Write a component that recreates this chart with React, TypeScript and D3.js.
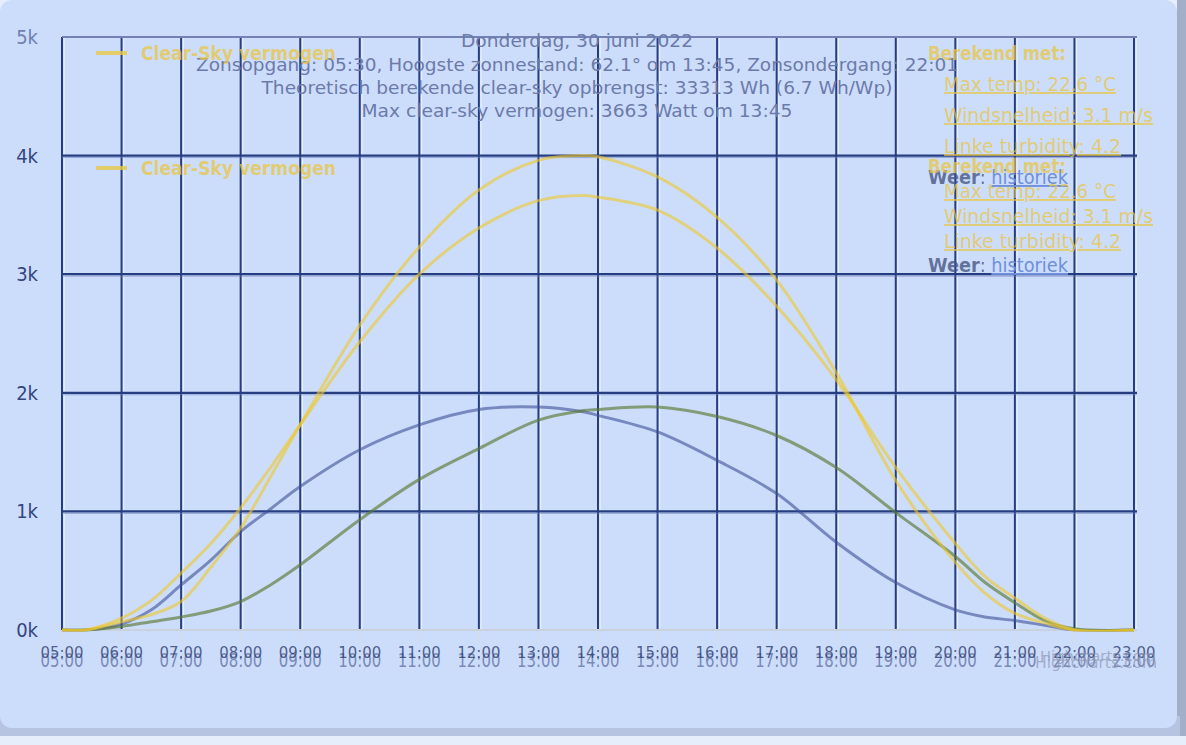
import React, { useEffect } from 'react';
import * as d3 from 'd3';

// ---- data (kW) ----
const hours = [5, 5.4, 6, 6.5, 7, 7.5, 8, 8.5, 9, 10, 11, 12, 13, 13.75, 14, 15, 16, 17, 18, 19, 20, 20.5, 21, 21.5, 22, 23];
const clearSkyHigh = [0, 0, 0.07, 0.13, 0.24, 0.53, 0.86, 1.29, 1.73, 2.57, 3.23, 3.71, 3.96, 4.0, 3.99, 3.82, 3.48, 2.95, 2.17, 1.26, 0.57, 0.31, 0.14, 0.06, 0, 0];
const clearSky = [0, 0, 0.10, 0.25, 0.48, 0.73, 1.03, 1.37, 1.73, 2.43, 3.0, 3.39, 3.62, 3.663, 3.65, 3.54, 3.22, 2.73, 2.11, 1.37, 0.73, 0.45, 0.27, 0.10, 0, 0];
const eastPower = [0, 0, 0.05, 0.17, 0.38, 0.59, 0.83, 1.02, 1.21, 1.52, 1.73, 1.86, 1.88, 1.84, 1.81, 1.67, 1.43, 1.15, 0.74, 0.40, 0.17, 0.11, 0.08, 0.04, 0, 0];
const westPower = [0, 0, 0.03, 0.07, 0.11, 0.16, 0.24, 0.38, 0.55, 0.93, 1.27, 1.53, 1.77, 1.85, 1.86, 1.88, 1.80, 1.64, 1.37, 0.99, 0.62, 0.40, 0.23, 0.08, 0.01, 0];

const xTickHours = [5, 6, 7, 8, 9, 10, 11, 12, 13, 14, 15, 16, 17, 18, 19, 20, 21, 22, 23];
const yTicks = [0, 1, 2, 3, 4, 5];

const titleText = 'Donderdag, 30 juni 2022';
const subtitleLines = [
  'Zonsopgang: 05:30, Hoogste zonnestand: 62.1° om 13:45, Zonsondergang: 22:01',
  'Theoretisch berekende clear-sky opbrengst: 33313 Wh (6.7 Wh/Wp)',
  'Max clear-sky vermogen: 3663 Watt om 13:45',
];
const subtitleWidths = [762, 631, 431];
const legendName = 'Clear-Sky vermogen';
const infoTitle = 'Berekend met:';
const infoItems = ['Max temp: 22.6 °C', 'Windsnelheid: 3.1 m/s', 'Linke turbidity: 4.2'];
const infoWidths = [172, 209, 177];

const W = 1186;
const H = 745;
const FONT = '"DejaVu Sans Condensed", "DejaVu Sans", sans-serif';

const fmtHour = (h: number) => `${String(h).padStart(2, '0')}:00`;

export default function App() {
  useEffect(() => {
    document.body.style.margin = '0';
  }, []);

  const x = d3.scaleLinear().domain([5, 23]).range([62, 1134]);
  const y = d3.scaleLinear().domain([0, 5]).range([630, 37]);

  const line = d3
    .line<number>()
    .x((_, i) => x(hours[i]))
    .y((d) => y(d))
    .curve(d3.curveCatmullRom.alpha(0.5));

  const series = [
    { data: eastPower, color: 'rgba(60,80,150,0.6)' },
    { data: westPower, color: 'rgba(90,120,50,0.65)' },
    { data: clearSky, color: 'rgba(238,200,40,0.6)' },
    { data: clearSkyHigh, color: 'rgba(238,200,40,0.6)' },
  ];

  const yellowText = 'rgba(232,198,70,0.75)';
  const subColor = '#6c7aaa';

  const infoBlock = (top: number, step: number, weerY: number, key: string) => (
    <g key={key}>
      <text x={928} y={top + 7} fontSize={19} fontWeight="bold" fill={yellowText} textLength={138} lengthAdjust="spacingAndGlyphs">
        {infoTitle}
      </text>
      {infoItems.map((t, i) => (
        <text
          key={t}
          x={944}
          y={top + step * (i + 1) + 7}
          fontSize={19}
          fill={yellowText}
          textDecoration="underline"
          textLength={infoWidths[i]}
          lengthAdjust="spacingAndGlyphs"
        >
          {t}
        </text>
      ))}
      <text x={928} y={weerY + 7} fontSize={19} textLength={140} lengthAdjust="spacingAndGlyphs">
        <tspan fontWeight="bold" fill="rgba(70,85,130,0.8)">Weer</tspan>
        <tspan fill="rgba(70,85,130,0.8)">: </tspan>
        <tspan fill="#6f8fdc" textDecoration="underline">historiek</tspan>
      </text>
    </g>
  );

  return (
    <svg
      width={W}
      height={H}
      style={{ position: 'absolute', left: 0, top: 0, display: 'block' }}
      fontFamily={FONT}
    >
      <defs>
        <clipPath id="plotClip">
          <rect x={40} y={20} width={1120} height={611.5} />
        </clipPath>
      </defs>
      <rect x={0} y={0} width={W} height={H} fill="#e6eefc" />
      <rect x={1177} y={0} width={9} height={736} fill="#a3afc8" />
      <rect x={0} y={716} width={1180} height={20} fill="#b6c4e2" />
      <rect x={0} y={0} width={1177} height={728} rx={12} ry={12} fill="#ccddfb" />

      {/* grid: vertical */}
      {xTickHours.map((h) => (
        <g key={'v' + h}>
          <line x1={x(h)} x2={x(h)} y1={630} y2={641} stroke="#d6dbe6" strokeWidth={1.5} />
          <line x1={x(h) + 2.2} x2={x(h) + 2.2} y1={37} y2={630} stroke="rgba(240,246,255,0.85)" strokeWidth={1} />
          <line x1={x(h)} x2={x(h)} y1={37} y2={630} stroke="#263d80" strokeWidth={2} />
        </g>
      ))}
      {/* grid: horizontal */}
      {yTicks.map((t) => {
        if (t === 0) {
          return <line key={'h' + t} x1={62} x2={1137} y1={y(t)} y2={y(t)} stroke="#c9d0de" strokeWidth={2} />;
        }
        if (t === 5) {
          return <line key={'h' + t} x1={62} x2={1137} y1={y(t)} y2={y(t)} stroke="#7282b4" strokeWidth={2} />;
        }
        return (
          <g key={'h' + t}>
            <line x1={62} x2={1137} y1={y(t) + 2} y2={y(t) + 2} stroke="rgba(110,130,190,0.6)" strokeWidth={1} />
            <line x1={62} x2={1137} y1={y(t)} y2={y(t)} stroke="#263d80" strokeWidth={2.2} />
          </g>
        );
      })}

      {/* series */}
      <g clipPath="url(#plotClip)">
        {series.map((s, i) => (
          <path key={i} d={line(s.data) || ''} fill="none" stroke={s.color} strokeWidth={3} strokeLinejoin="round" />
        ))}
      </g>

      {/* y labels */}
      {yTicks.map((t) => (
        <text
          key={'yl' + t}
          x={38}
          y={y(t) + 7}
          textAnchor="end"
          fontSize={20}
          fill={t === 5 ? '#7080b0' : '#34467e'}
        >
          {`${t}k`}
        </text>
      ))}

      {/* x labels (double rendered) */}
      {xTickHours.map((h) => (
        <g key={'xl' + h}>
          <text x={x(h)} y={667} textAnchor="middle" fontSize={19} fill="rgba(100,115,165,0.8)" textLength={43} lengthAdjust="spacingAndGlyphs">
            {fmtHour(h)}
          </text>
          <text x={x(h)} y={658} textAnchor="middle" fontSize={16} fill="rgba(45,60,110,0.8)" textLength={43} lengthAdjust="spacingAndGlyphs">
            {fmtHour(h)}
          </text>
        </g>
      ))}

      {/* credits */}
      <text x={1035} y={668} fontSize={16} fill="rgba(140,150,180,0.7)" textLength={122} lengthAdjust="spacingAndGlyphs">Highcharts.com</text>
      <text x={1040} y={661} fontSize={14} fill="rgba(140,150,180,0.7)" textLength={116} lengthAdjust="spacingAndGlyphs">Highcharts.com</text>

      {/* title */}
      <text x={577} y={47} textAnchor="middle" fontSize={18} fill={subColor} textLength={232} lengthAdjust="spacingAndGlyphs">{titleText}</text>
      {subtitleLines.map((t, i) => (
        <text key={t} x={577} y={71 + i * 23} textAnchor="middle" fontSize={18} fill={subColor} textLength={subtitleWidths[i]} lengthAdjust="spacingAndGlyphs">
          {t}
        </text>
      ))}

      {/* legends (double) */}
      {[53, 168].map((ly) => (
        <g key={'lg' + ly}>
          <line x1={96} x2={127} y1={ly} y2={ly} stroke="rgba(232,200,70,0.8)" strokeWidth={4} />
          <text x={141} y={ly + 7} fontSize={20} fontWeight="bold" fill={yellowText} textLength={195} lengthAdjust="spacingAndGlyphs">
            {legendName}
          </text>
        </g>
      ))}

      {infoBlock(53, 31, 177, 'a')}
      {infoBlock(166, 25, 265, 'b')}
    </svg>
  );
}
